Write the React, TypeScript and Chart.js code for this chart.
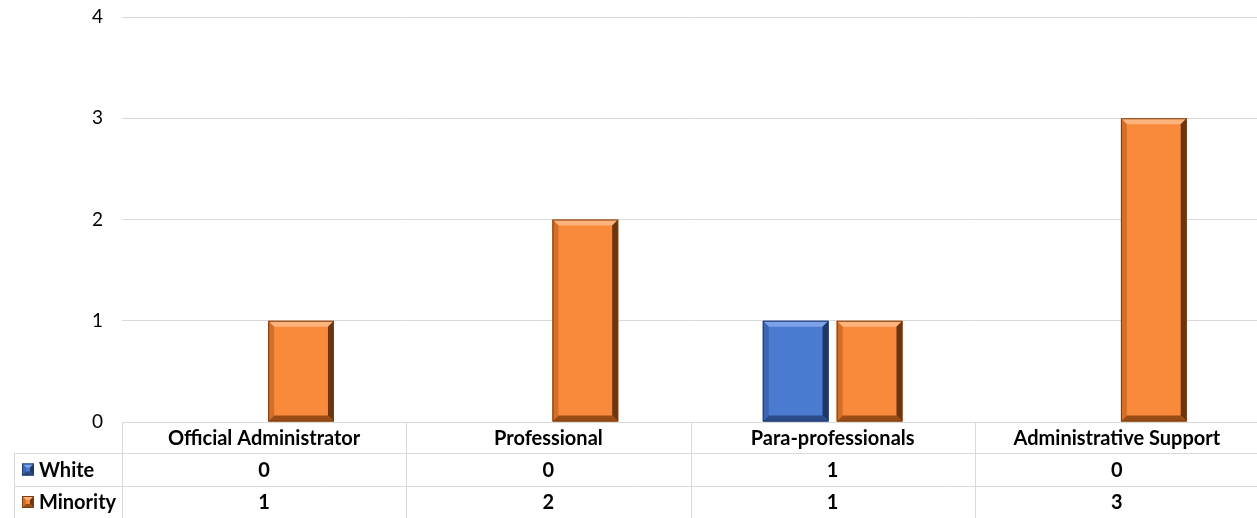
import React, { useEffect, useRef } from "react";
import { Chart, registerables } from "chart.js";

Chart.register(...registerables);

const categories = ["Official Administrator", "Professional", "Para-professionals", "Administrative Support"];
const whiteValues = [0, 0, 1, 0];
const minorityValues = [1, 2, 1, 3];
const seriesNames = ["White", "Minority"];
const yMin = 0;
const yMax = 4;

const FONT = "Lato, 'Open Sans', sans-serif";
const COLORS = {
  blue: { face: "#4a7bd1", top: "#7ca3e8", left: "#3c66b3", right: "#1f3766", bottom: "#2a4a88", edge: "#203a6e" },
  orange: { face: "#fa8a3b", top: "#fdb47c", left: "#d46f29", right: "#6a3510", bottom: "#9a4c16", edge: "#7a3c12" },
};

function drawBevel(ctx: CanvasRenderingContext2D, l: number, t: number, r: number, b: number, c: any, bev: number) {
  const w = r - l;
  const h = b - t;
  if (w < 1 || h < 1) return;
  const e = Math.min(bev, w / 3, h / 3);
  ctx.save();
  ctx.fillStyle = c.face;
  ctx.fillRect(l, t, w, h);
  const poly = (pts: number[][], color: string) => {
    ctx.beginPath();
    ctx.moveTo(pts[0][0], pts[0][1]);
    for (let i = 1; i < pts.length; i++) ctx.lineTo(pts[i][0], pts[i][1]);
    ctx.closePath();
    ctx.fillStyle = color;
    ctx.fill();
  };
  poly([[l, t], [r, t], [r - e, t + e], [l + e, t + e]], c.top);
  poly([[l, t], [l + e, t + e], [l + e, b - e], [l, b]], c.left);
  poly([[r, t], [r, b], [r - e, b - e], [r - e, t + e]], c.right);
  poly([[l, b], [r, b], [r - e, b - e], [l + e, b - e]], c.bottom);
  ctx.strokeStyle = c.edge;
  ctx.lineWidth = 1;
  ctx.strokeRect(l + 0.5, t + 0.5, w - 1, h - 1);
  ctx.restore();
}

const bevelPlugin = {
  id: "bevelBars",
  afterDatasetsDraw(chart: any) {
    const ctx = chart.ctx;
    chart.data.datasets.forEach((ds: any, di: number) => {
      const meta = chart.getDatasetMeta(di);
      const c = di === 0 ? COLORS.blue : COLORS.orange;
      meta.data.forEach((bar: any) => {
        const p = bar.getProps(["x", "y", "base", "width"], true);
        const l = p.x - p.width / 2;
        const r = p.x + p.width / 2;
        const t = Math.min(p.y, p.base);
        const b = Math.max(p.y, p.base);
        drawBevel(ctx, l, t, r, b, c, 6);
      });
    });
  },
};

const tablePlugin = {
  id: "dataTable",
  afterDraw(chart: any) {
    const ctx = chart.ctx;
    const xs = chart.scales.x;
    const area = chart.chartArea;
    const top = area.bottom;
    const rowH = [31, 33, 32];
    const y1 = top + rowH[0];
    const y2 = y1 + rowH[1];
    const y3 = y2 + rowH[2];
    const leftX = 14;
    const catW = (area.right - area.left) / categories.length;
    ctx.save();
    ctx.strokeStyle = "#d9d9d9";
    ctx.lineWidth = 1;
    ctx.beginPath();
    ctx.moveTo(leftX, y1 + 0.5);
    ctx.lineTo(area.right, y1 + 0.5);
    ctx.moveTo(leftX, y2 + 0.5);
    ctx.lineTo(area.right, y2 + 0.5);
    ctx.moveTo(leftX + 0.5, y1);
    ctx.lineTo(leftX + 0.5, y3);
    for (let i = 0; i <= categories.length; i++) {
      const x = Math.round(area.left + i * catW) + 0.5;
      ctx.moveTo(x, top);
      ctx.lineTo(x, y3);
    }
    ctx.stroke();

    ctx.fillStyle = "#000";
    ctx.font = "bold 20px " + FONT;
    ctx.textAlign = "center";
    ctx.textBaseline = "middle";
    categories.forEach((cat, i) => {
      const cx = xs.getPixelForValue(i);
      ctx.fillText(cat, cx, (top + y1) / 2 + 1);
      ctx.fillText(String(whiteValues[i]), cx, (y1 + y2) / 2 + 1);
      ctx.fillText(String(minorityValues[i]), cx, (y2 + y3) / 2 + 1);
    });
    ctx.textAlign = "left";
    ctx.fillText(seriesNames[0], 39, (y1 + y2) / 2 + 1);
    ctx.fillText(seriesNames[1], 39, (y2 + y3) / 2 + 1);
    drawBevel(ctx, 22, (y1 + y2) / 2 - 6, 34, (y1 + y2) / 2 + 6, COLORS.blue, 5);
    drawBevel(ctx, 22, (y2 + y3) / 2 - 6, 34, (y2 + y3) / 2 + 6, COLORS.orange, 5);
    ctx.restore();
  },
};

export default function App() {
  const ref = useRef<HTMLCanvasElement>(null);
  useEffect(() => {
    if (!ref.current) return;
    const chart = new Chart(ref.current, {
      type: "bar",
      data: {
        labels: categories,
        datasets: [
          { label: seriesNames[0], data: whiteValues, backgroundColor: "rgba(0,0,0,0)", borderWidth: 0, categoryPercentage: 0.52, barPercentage: 0.89 },
          { label: seriesNames[1], data: minorityValues, backgroundColor: "rgba(0,0,0,0)", borderWidth: 0, categoryPercentage: 0.52, barPercentage: 0.89 },
        ],
      },
      options: {
        responsive: false,
        animation: false,
        layout: { padding: { top: 17, left: 0, right: 0, bottom: 0 } },
        plugins: { legend: { display: false }, tooltip: { enabled: false }, title: { display: false } },
        scales: {
          x: {
            grid: { display: false },
            border: { display: false },
            ticks: { display: false },
            afterFit: (s: any) => { s.height = 96; s.paddingLeft = 0; s.paddingRight = 0; },
          },
          y: {
            min: yMin,
            max: yMax,
            ticks: { stepSize: 1, color: "#000", font: { family: FONT, size: 19 }, padding: 19 },
            grid: { color: "#d9d9d9", drawTicks: false },
            border: { display: false },
            afterFit: (s: any) => { s.width = 122; s.paddingTop = 0; s.paddingBottom = 0; },
          },
        },
      },
      plugins: [bevelPlugin, tablePlugin],
    });
    return () => chart.destroy();
  }, []);
  return (
    <div style={{ position: "fixed", left: 0, top: 0, width: 1257, height: 518, overflow: "hidden", background: "#fff" }}>
      <canvas ref={ref} width={1259} height={518} />
    </div>
  );
}
